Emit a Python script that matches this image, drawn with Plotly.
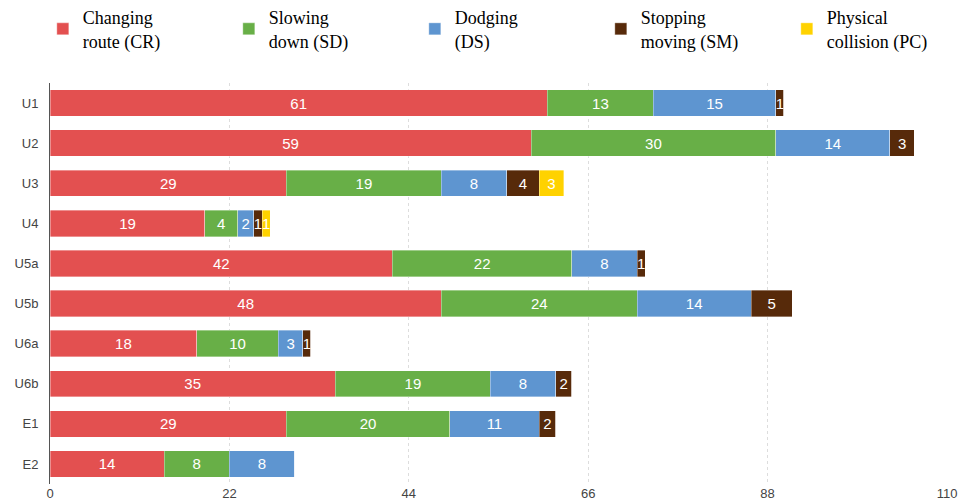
import plotly.graph_objects as go

categories = ["U1", "U2", "U3", "U4", "U5a", "U5b", "U6a", "U6b", "E1", "E2"]
series_names = ["Changing<br>route (CR)", "Slowing<br>down (SD)", "Dodging<br>(DS)",
                "Stopping<br>moving (SM)", "Physical<br>collision (PC)"]
cr = [61, 59, 29, 19, 42, 48, 18, 35, 29, 14]
sd = [13, 30, 19, 4, 22, 24, 10, 19, 20, 8]
ds = [15, 14, 8, 2, 8, 14, 3, 8, 11, 8]
sm = [1, 3, 4, 1, 1, 5, 1, 2, 2, 0]
pc = [0, 0, 3, 1, 0, 0, 0, 0, 0, 0]
x_ticks = [0, 22, 44, 66, 88, 110]

colors = ["#E35050", "#68AF47", "#5E95D0", "#572A0A", "#FFD200"]
series = [cr, sd, ds, sm, pc]

fig = go.Figure()
for name, vals, col in zip(series_names, series, colors):
    fig.add_trace(go.Bar(
        y=categories, x=vals, name=name, orientation="h",
        marker=dict(color=col, line=dict(color="rgba(255,255,255,0.6)", width=0.6)),
        text=[str(v) if v > 0 else "" for v in vals],
        textposition="inside", insidetextanchor="middle", textangle=0,
        textfont=dict(color="white", size=15, family="Liberation Sans, Arial"),
        cliponaxis=True,
    ))

fig.update_layout(
    barmode="stack",
    bargap=0.34,
    width=966, height=504,
    margin=dict(l=50, r=19, t=83, b=20, autoexpand=False),
    plot_bgcolor="white", paper_bgcolor="white",
    uniformtext=dict(minsize=15, mode="show"),
    font=dict(family="Liberation Sans, Arial", size=13, color="#444"),
    legend=dict(
        orientation="h", x=-0.008, xanchor="left", y=1.06, yanchor="bottom",
        font=dict(family="Liberation Serif, Times New Roman", size=18, color="black"),
        entrywidth=141, entrywidthmode="pixels", traceorder="normal",
        itemwidth=30,
    ),
    showlegend=True,
)
fig.update_xaxes(
    range=[0, 110], tickvals=x_ticks, showgrid=True, gridcolor="#dddddd",
    griddash="dot", gridwidth=1, zeroline=False, showline=False,
    tickfont=dict(size=13, color="#444"), ticks="", automargin=False,
)
fig.update_yaxes(
    autorange="reversed", showline=True, linecolor="#555", linewidth=1,
    ticks="", showgrid=False, tickfont=dict(size=13, color="#444"),
    ticklabelstandoff=8, automargin=False,
)

fig.write_html("out.html", config={"displayModeBar": False},
               post_script="document.body.style.margin='0';document.body.style.padding='0';")
